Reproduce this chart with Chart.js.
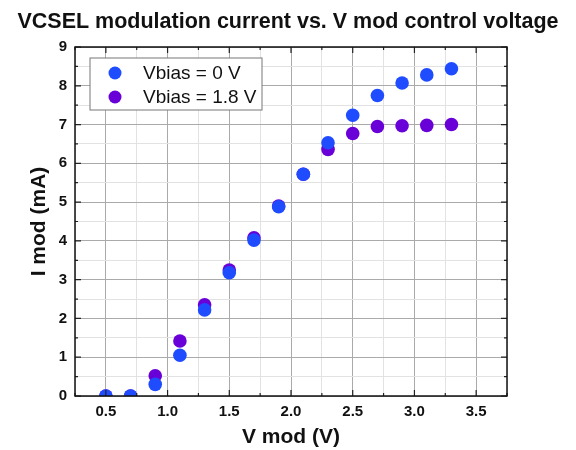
<!DOCTYPE html>
<html lang="en">
<head>
  <meta charset="UTF-8" />
  <title>VCSEL modulation current</title>
  <script src="https://cdn.jsdelivr.net/npm/chart.js"></script>
  <style>
    * { margin: 0; padding: 0; box-sizing: border-box; }
    body { background: #fff; width: 576px; height: 450px; overflow: hidden; }
  </style>
</head>
<body>
  <canvas id="chart" width="576" height="450"></canvas>

  <script>
    // data
    const vmod = [0.5, 0.7, 0.9, 1.1, 1.3, 1.5, 1.7, 1.9, 2.1, 2.3, 2.5, 2.7, 2.9, 3.1, 3.3];
    const imodBias0 = [0, 0, 0.30, 1.05, 2.22, 3.18, 4.02, 4.88, 5.72, 6.53, 7.24, 7.75, 8.07, 8.28, 8.44];
    const imodBias18 = [0, 0, 0.52, 1.42, 2.35, 3.25, 4.08, 4.90, 5.72, 6.36, 6.77, 6.95, 6.97, 6.98, 7.0];
    const seriesNames = ['Vbias = 0 V', 'Vbias = 1.8 V'];
    const seriesColors = ['#1f4cff', '#6a00d8'];
    const chartTitle = 'VCSEL modulation current vs. V mod control voltage';

    const FONT = "'Liberation Sans', Arial, sans-serif";

    const toPoints = ys => vmod.map((x, i) => ({ x: x, y: ys[i] }));
    const isHalf = v => Math.abs(v * 2 - Math.round(v * 2)) < 1e-6;

    // title across the whole canvas, frame, inward ticks and the boxed legend
    const framePlugin = {
      id: 'frame',
      afterDraw(chart) {
        const { ctx, chartArea: a, scales } = chart;
        ctx.save();
        ctx.fillStyle = '#111';
        ctx.font = 'bold 21.5px ' + FONT;
        ctx.textAlign = 'center';
        ctx.textBaseline = 'middle';
        ctx.fillText(chartTitle, chart.width / 2, 22);
        ctx.textAlign = 'left';

        ctx.strokeStyle = '#222';
        ctx.lineWidth = 1.2;
        scales.x.ticks.forEach(t => {
          const px = scales.x.getPixelForValue(t.value);
          const len = isHalf(t.value) ? 6 : 3;
          ctx.beginPath();
          ctx.moveTo(px, a.bottom); ctx.lineTo(px, a.bottom - len);
          ctx.moveTo(px, a.top); ctx.lineTo(px, a.top + len);
          ctx.stroke();
        });
        scales.y.ticks.forEach(t => {
          const py = scales.y.getPixelForValue(t.value);
          const len = Number.isInteger(t.value) ? 6 : 3;
          ctx.beginPath();
          ctx.moveTo(a.left, py); ctx.lineTo(a.left + len, py);
          ctx.moveTo(a.right, py); ctx.lineTo(a.right - len, py);
          ctx.stroke();
        });
        ctx.lineWidth = 1.5;
        ctx.strokeStyle = '#111';
        ctx.strokeRect(a.left, a.top, a.right - a.left, a.bottom - a.top);

        // legend box
        const bx = a.left + 15, by = a.top + 11, bw = 172, bh = 52;
        ctx.fillStyle = '#fff';
        ctx.fillRect(bx, by, bw, bh);
        ctx.strokeStyle = '#777';
        ctx.lineWidth = 1;
        ctx.strokeRect(bx, by, bw, bh);
        ctx.font = '19px ' + FONT;
        chart.data.datasets.forEach((ds, i) => {
          const cy = by + 15 + i * 24;
          ctx.beginPath();
          ctx.fillStyle = ds.backgroundColor;
          ctx.arc(bx + 25, cy, 6.5, 0, Math.PI * 2);
          ctx.fill();
          ctx.fillStyle = '#111';
          ctx.fillText(ds.label, bx + 53, cy + 1);
        });
        ctx.restore();
      }
    };

    new Chart(document.getElementById('chart'), {
      type: 'scatter',
      data: {
        datasets: [
          { label: seriesNames[0], data: toPoints(imodBias0), backgroundColor: seriesColors[0], borderWidth: 0, pointRadius: 6.8 },
          { label: seriesNames[1], data: toPoints(imodBias18), backgroundColor: seriesColors[1], borderWidth: 0, pointRadius: 6.8 }
        ]
      },
      options: {
        responsive: false,
        animation: false,
        devicePixelRatio: 1,
        layout: { padding: { left: 0, right: 69, top: 47, bottom: 0 } },
        plugins: {
          legend: { display: false },
          tooltip: { enabled: false },
          title: { display: false }
        },
        scales: {
          x: {
            type: 'linear',
            min: 0.25,
            max: 3.75,
            afterFit: s => { s.height = 54; },
            ticks: {
              stepSize: 0.25,
              autoSkip: false,
              maxRotation: 0,
              color: '#111',
              padding: 7,
              font: { family: FONT, size: 15, weight: 'bold' },
              callback: v => isHalf(v) ? v.toFixed(1) : ''
            },
            grid: {
              tickLength: 0,
              color: c => isHalf(c.tick.value) ? '#aaa' : '#e2e2e2',
              lineWidth: 1
            },
            border: { display: false },
            title: {
              display: true,
              text: 'V mod (V)',
              color: '#111',
              font: { family: FONT, size: 21, weight: 'bold' },
              padding: { top: 0, bottom: 0 }
            }
          },
          y: {
            min: 0,
            max: 9,
            afterFit: s => { s.width = 75; },
            ticks: {
              stepSize: 0.5,
              autoSkip: false,
              color: '#111',
              padding: 8,
              font: { family: FONT, size: 15, weight: 'bold' },
              callback: v => Number.isInteger(v) ? String(v) : ''
            },
            grid: {
              tickLength: 0,
              color: c => Number.isInteger(c.tick.value) ? '#aaa' : '#e2e2e2',
              lineWidth: 1
            },
            border: { display: false },
            title: {
              display: true,
              text: 'I mod (mA)',
              color: '#111',
              font: { family: FONT, size: 21, weight: 'bold' },
              padding: { top: 27, bottom: 0 }
            }
          }
        }
      },
      plugins: [framePlugin]
    });
  </script>
</body>
</html>
